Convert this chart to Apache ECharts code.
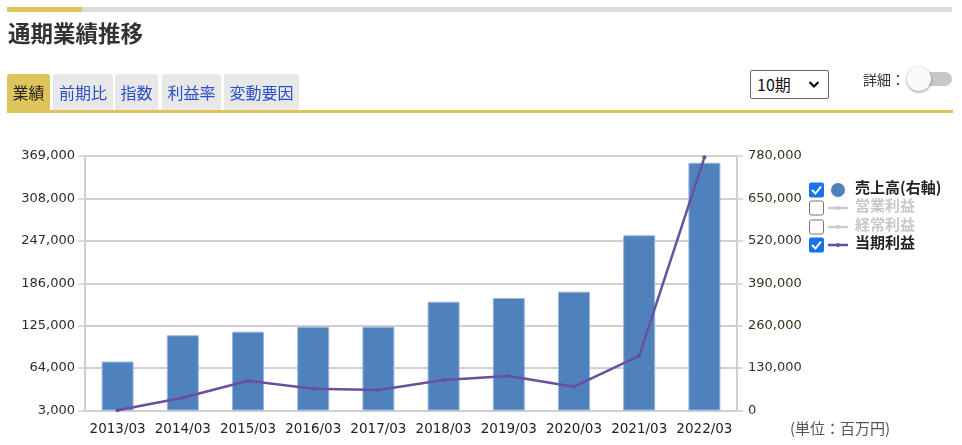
<!DOCTYPE html>
<html>
<head>
<meta charset="utf-8">
<script src="https://cdn.jsdelivr.net/npm/echarts@6/dist/echarts.min.js"></script>
<style>
html,body{margin:0;padding:0;background:#fff;}
body{width:962px;height:445px;position:relative;overflow:hidden;font-family:"Noto Sans CJK JP","Noto Sans",sans-serif;}
#chart{position:absolute;left:0;top:0;width:962px;height:445px;}
.abs{position:absolute;}
.tab{position:absolute;top:74px;height:36px;line-height:36px;text-align:center;font-size:16px;color:#2b4fc8;background:#e8e8e8;border-radius:3px 3px 0 0;}
.tab.active{background:#dfc35c;color:#222;}
</style>
</head>
<body>
<div id="chart"></div>
<div class="abs" style="left:7px;top:7px;width:945px;height:5px;background:#dcdcdc;"></div>
<div class="abs" style="left:7px;top:7px;width:75px;height:5px;background:#dfc35c;"></div>
<div class="abs" style="left:8px;top:17px;font-size:22.5px;font-weight:bold;color:#333;line-height:30px;">通期業績推移</div>
<div class="tab active" style="left:7px;width:43px;">業績</div>
<div class="tab" style="left:53px;width:60px;">前期比</div>
<div class="tab" style="left:115px;width:43px;">指数</div>
<div class="tab" style="left:162px;width:59px;">利益率</div>
<div class="tab" style="left:224px;width:75px;">変動要因</div>
<div class="abs" style="left:7px;top:110px;width:946px;height:3px;background:#dfc35c;"></div>
<div class="abs" style="left:750px;top:70px;width:77px;height:27px;border:1px solid #666;border-radius:2px;background:#fff;">
  <span class="abs" style="left:6px;top:0;line-height:27px;font-size:16px;color:#111;">10期</span>
  <svg class="abs" style="left:57px;top:9px;" width="12" height="10"><polyline points="1.5,2 6,6.5 10.5,2" fill="none" stroke="#111" stroke-width="2.2"/></svg>
</div>
<div class="abs" style="left:863px;top:68px;font-size:14px;color:#333;line-height:22px;">詳細：</div>
<div class="abs" style="left:914px;top:72px;width:38px;height:14px;border-radius:7px;background:#c8c8c8;"></div>
<div class="abs" style="left:907px;top:67px;width:24px;height:24px;border-radius:12px;background:#fafafa;box-shadow:0 1px 3px rgba(0,0,0,0.45);"></div>
<script>
const categories = ['2013/03','2014/03','2015/03','2016/03','2017/03','2018/03','2019/03','2020/03','2021/03','2022/03'];
const sales = [150000, 230500, 241500, 256800, 256800, 333400, 344800, 364100, 537000, 759400];
const netIncome = [3500, 21400, 45900, 34400, 32500, 46900, 52600, 37200, 81400, 367100];
const leftTicks = [3000, 64000, 125000, 186000, 247000, 308000, 369000];
const rightTicks = [0, 130000, 260000, 390000, 520000, 650000, 780000];
const legendItems = ['売上高(右軸)', '営業利益', '経常利益', '当期利益'];
const legendChecked = [true, false, false, true];
const unitLabel = '(単位：百万円)';

const fmt = v => Number(v).toLocaleString('en-US');
const axisFont = 'DejaVu Sans';
const gridColor = '#cfcfcf';

const chart = echarts.init(document.getElementById('chart'), null, {renderer: 'canvas'});

const blue = '#4f81bd';
const purple = '#6a4f9f';
const legendY = [190, 208, 227, 245];
const graphics = [];
legendItems.forEach((name, i) => {
  const y = legendY[i];
  const on = legendChecked[i];
  if (on) {
    graphics.push({type: 'rect', left: 809, top: y - 7.5, shape: {width: 15, height: 15, r: 2}, style: {fill: '#1a73e8'}});
    graphics.push({type: 'polyline', shape: {points: [[812, y], [815.5, y + 3.5], [821, y - 3.5]]}, style: {stroke: '#fff', lineWidth: 2, fill: null}});
  } else {
    graphics.push({type: 'rect', left: 809, top: y - 7.5, shape: {width: 14, height: 14, r: 2}, style: {fill: '#fff', stroke: '#767676', lineWidth: 1}});
  }
  if (i === 0) {
    graphics.push({type: 'circle', shape: {cx: 838, cy: y, r: 7}, style: {fill: blue}});
  } else {
    const c = on ? purple : '#cccccc';
    graphics.push({type: 'line', shape: {x1: 828, y1: y, x2: 848, y2: y}, style: {stroke: c, lineWidth: 2.5}});
    graphics.push({type: 'circle', shape: {cx: 838, cy: y, r: 2}, style: {fill: c}});
  }
  graphics.push({type: 'text', left: 855, top: y - 10, style: {text: name, fontSize: 15, fontWeight: 'bold', fill: on ? '#222' : '#c8c8c8', fontFamily: 'Noto Sans CJK JP'}});
});
graphics.push({type: 'text', left: 790, top: 421, style: {text: unitLabel, fontSize: 15, fill: '#555', fontFamily: 'Noto Sans CJK JP'}});

chart.setOption({
  animation: false,
  grid: {left: 85, right: 225, top: 156, bottom: 34.5},
  xAxis: {
    type: 'category',
    data: categories,
    boundaryGap: true,
    axisLine: {lineStyle: {color: gridColor, width: 2}},
    axisTick: {inside: true, length: 6, lineStyle: {color: gridColor, width: 1.5}},
    axisLabel: {fontSize: 13.5, color: '#222', margin: 12, fontFamily: axisFont, interval: 0, hideOverlap: false}
  },
  yAxis: [
    {
      type: 'value', position: 'left', min: leftTicks[0], max: leftTicks[leftTicks.length - 1],
      axisLine: {show: true, lineStyle: {color: gridColor, width: 2}},
      axisTick: {show: true, length: 7, lineStyle: {color: gridColor, width: 1.5}, customValues: leftTicks},
      axisLabel: {fontSize: 13, color: '#2a2a3a', margin: 10, fontFamily: axisFont, formatter: fmt, customValues: leftTicks},
      splitLine: {show: false}
    },
    {
      type: 'value', position: 'right', min: rightTicks[0], max: rightTicks[rightTicks.length - 1], interval: rightTicks[1] - rightTicks[0],
      axisLine: {show: true, lineStyle: {color: gridColor, width: 2}},
      axisTick: {show: true, length: 6, lineStyle: {color: gridColor, width: 1.5}},
      axisLabel: {fontSize: 13, color: '#3a3020', margin: 11, fontFamily: axisFont, formatter: fmt},
      splitLine: {show: true, lineStyle: {color: gridColor, width: 2}}
    }
  ],
  series: [
    {
      name: legendItems[0], type: 'bar', yAxisIndex: 1, data: sales, barWidth: 32,
      itemStyle: {color: blue, borderColor: '#9ab6dc', borderWidth: 1}
    },
    {
      name: legendItems[3], type: 'line', yAxisIndex: 0, data: netIncome,
      symbol: 'circle', symbolSize: 4, z: 5,
      lineStyle: {color: purple, width: 2.5}, itemStyle: {color: purple}
    }
  ],
  graphic: graphics
});
</script>
</body>
</html>
